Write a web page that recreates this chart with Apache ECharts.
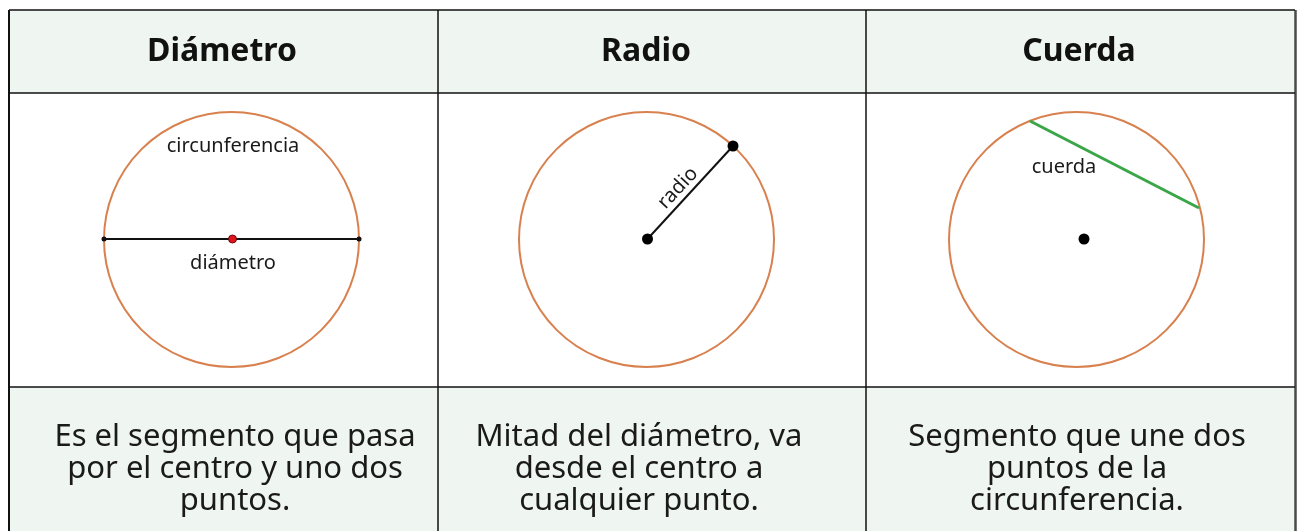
<!DOCTYPE html>
<html><head><meta charset="utf-8">
<script src="https://cdn.jsdelivr.net/npm/echarts@6/dist/echarts.min.js"></script>
<style>html,body{margin:0;padding:0;background:#fff}#c{width:1307px;height:531px}</style>
</head><body><div id="c"></div>
<script>
// ---- data ----
const headers = ['Diámetro', 'Radio', 'Cuerda'];
const descriptions = [
  'Es el segmento que pasa\npor el centro y uno dos\npuntos.',
  'Mitad del diámetro, va\ndesde el centro a\ncualquier punto.',
  'Segmento que une dos\npuntos de la\ncircunferencia.'
];
const columnEdges = [9, 438, 866, 1295];
const rowEdges = [10, 93, 387, 540];
// circle: [cx, cy, r]
const circles = [[231.5, 239.5, 127.5], [646.5, 239.5, 127.5], [1076.5, 239.5, 127.5]];
const diameterSegment = [[104, 239], [359, 239]];
const radiusSegment = [[647.5, 239], [733, 146]];
const chordSegment = [[1030, 121], [1199, 208]];
const smallDots = [[104, 239], [359, 239]];
const bigDots = [[647.5, 239], [733, 146], [1084, 239]];
const centerDot = [[232.5, 239]];
const figureLabels = [
  ['circunferencia', 233, 146, 0],
  ['diámetro', 233, 263, 0],
  ['radio', 678, 188, 47],
  ['cuerda', 1064, 167, 0]
];

// ---- layout ----
const headerCenters = [[222, 52], [646, 52], [1079, 52]];
const descriptionCenters = [[235, 469], [639, 469], [1077, 469]];

// ---- build ----
const cells = [];
for (let r = 0; r < 3; r++) for (let c = 0; c < 3; c++)
  cells.push([columnEdges[c], rowEdges[r], columnEdges[c + 1], rowEdges[r + 1], r]);

const FONT = '"Noto Sans", Lato, sans-serif';
const chart = echarts.init(document.getElementById('c'), null, {renderer: 'canvas'});
const gridLines = [];
columnEdges.forEach((x, i) => gridLines.push({coords: [[x, rowEdges[0]], [x, 540]],
  lineStyle: {width: i === 3 ? 2.5 : (i === 0 ? 2 : 1.5), color: i === 3 ? '#4a4a4a' : '#111', opacity: 1}}));
[rowEdges[0], rowEdges[1], rowEdges[2]].forEach(y => gridLines.push({coords: [[columnEdges[0], y], [columnEdges[3], y]],
  lineStyle: {width: 1.5, color: '#111', opacity: 1}}));

chart.setOption({
  animation: false,
  grid: {left: 0, top: 0, width: 1307, height: 531},
  xAxis: {type: 'value', min: 0, max: 1307, show: false},
  yAxis: {type: 'value', min: 0, max: 531, inverse: true, show: false},
  series: [
    {
      type: 'custom', data: cells, silent: true, z: 1,
      renderItem: (p, api) => {
        const a = api.coord([api.value(0), api.value(1)]);
        const b = api.coord([api.value(2), api.value(3)]);
        const row = api.value(4);
        return {type: 'rect', shape: {x: a[0], y: a[1], width: b[0] - a[0], height: b[1] - a[1]},
          style: {fill: row === 1 ? '#ffffff' : '#eff5f1'}};
      }
    },
    {
      type: 'lines', coordinateSystem: 'cartesian2d', silent: true, z: 3,
      lineStyle: {opacity: 1},
      data: gridLines
    },
    {
      type: 'custom', data: circles, silent: true, z: 4,
      renderItem: (p, api) => {
        const c = api.coord([api.value(0), api.value(1)]);
        const r = api.size([api.value(2), 0])[0];
        return {type: 'circle', shape: {cx: c[0], cy: c[1], r: r},
          style: {fill: 'none', stroke: '#d8804e', lineWidth: 2}};
      }
    },
    {
      type: 'lines', coordinateSystem: 'cartesian2d', silent: true, z: 5,
      lineStyle: {opacity: 1},
      data: [
        {coords: diameterSegment, lineStyle: {color: '#111', width: 2, opacity: 1}},
        {coords: radiusSegment, lineStyle: {color: '#111', width: 2, opacity: 1}},
        {coords: chordSegment, lineStyle: {color: '#3aa648', width: 3, opacity: 1}}
      ]
    },
    {type: 'scatter', data: smallDots, symbolSize: 5, itemStyle: {color: '#111', opacity: 1}, silent: true, z: 6},
    {type: 'scatter', data: bigDots, symbolSize: 11, itemStyle: {color: '#000', opacity: 1}, silent: true, z: 6},
    {type: 'scatter', data: centerDot, symbolSize: 8, itemStyle: {color: '#e0141e', borderColor: '#5a1010', borderWidth: 1, opacity: 1}, silent: true, z: 6},
    {
      type: 'custom', data: figureLabels.map(d => [d[1], d[2], d[3], d[0]]), silent: true, z: 7,
      renderItem: (p, api) => {
        const c = api.coord([api.value(0), api.value(1)]);
        const d = figureLabels[p.dataIndex];
        return {type: 'text', x: c[0], y: c[1], rotation: d[3] * Math.PI / 180,
          style: {text: d[0], font: '20px ' + FONT, fill: '#1a1a1a', align: 'center', verticalAlign: 'middle'}};
      }
    },
    {
      type: 'custom', data: headerCenters, silent: true, z: 7,
      renderItem: (p, api) => {
        const c = api.coord([api.value(0), api.value(1)]);
        return {type: 'text', x: c[0], y: c[1],
          style: {text: headers[p.dataIndex], font: 'bold 32px ' + FONT, fill: '#111', align: 'center', verticalAlign: 'middle'}};
      }
    },
    {
      type: 'custom', data: descriptionCenters, silent: true, z: 7,
      renderItem: (p, api) => {
        const c = api.coord([api.value(0), api.value(1)]);
        return {type: 'text', x: c[0], y: c[1],
          style: {text: descriptions[p.dataIndex], font: '31px ' + FONT, lineHeight: 32, fill: '#1a1a1a', align: 'center', verticalAlign: 'middle'}};
      }
    }
  ]
});
</script></body></html>
